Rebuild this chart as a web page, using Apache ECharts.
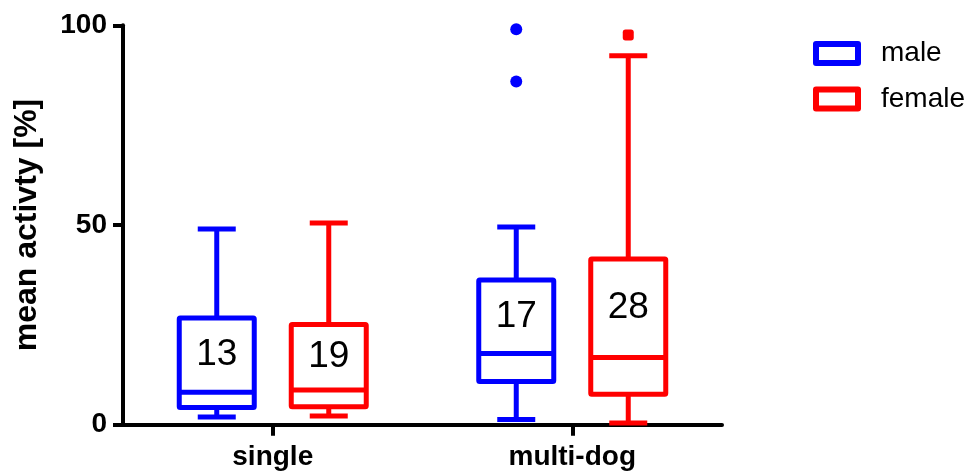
<!DOCTYPE html>
<html>
<head>
<meta charset="utf-8">
<script src="https://cdn.jsdelivr.net/npm/echarts@6/dist/echarts.min.js"></script>
<style>
  html, body { margin: 0; padding: 0; background: #fff; }
  #chart { width: 976px; height: 472px; }
</style>
</head>
<body>
<div id="chart"></div>
<script>
// Housing groups on the x axis
const categories = ['single', 'multi-dog'];
// Five-number summaries per group: [lower whisker, Q1, median, Q3, upper whisker]
const maleStats = [
  [1.9, 4.3, 8.1, 26.7, 49.0],
  [1.3, 10.8, 17.8, 36.2, 49.5]
];
const femaleStats = [
  [2.2, 4.5, 8.7, 25.1, 50.5],
  [0.4, 7.6, 16.8, 41.5, 92.4]
];
// Number of dogs per box
const maleCounts = [13, 17];
const femaleCounts = [19, 28];
// Points beyond the whiskers: [group index, value]
const maleOutliers = [[1, 99.0], [1, 85.9]];
const femaleOutliers = [[1, 97.6]];
// Y axis range and step
const yMin = 0, yMax = 100, yStep = 50;

const FONT = "'Liberation Sans', Arial, Helvetica, sans-serif";
const BLUE = '#0000ff';
const RED = '#ff0000';
const SHIFT = 56;      // horizontal offset of each box from the group centre (px)
const BOX_HALF = 37.5; // half box width (px)
const CAP_HALF = 19;   // half whisker-cap width (px)
const STROKE = 5;

function toRows(stats, counts) {
  return stats.map((s, i) => [i, s[0], s[1], s[2], s[3], s[4], counts[i]]);
}

function makeBoxRenderer(shift, color) {
  return function (params, api) {
    const cat = api.value(0);
    const lo = api.value(1), q1 = api.value(2), med = api.value(3),
          q3 = api.value(4), hi = api.value(5), n = api.value(6);
    const x = api.coord([cat, 0])[0] + shift;
    const py = v => api.coord([cat, v])[1];
    const line = { stroke: color, lineWidth: STROKE, lineCap: 'butt' };
    return {
      type: 'group',
      children: [
        { type: 'line', shape: { x1: x, y1: py(q1), x2: x, y2: py(lo) }, style: line },
        { type: 'line', shape: { x1: x, y1: py(q3), x2: x, y2: py(hi) }, style: line },
        { type: 'line', shape: { x1: x - CAP_HALF, y1: py(lo), x2: x + CAP_HALF, y2: py(lo) }, style: line },
        { type: 'line', shape: { x1: x - CAP_HALF, y1: py(hi), x2: x + CAP_HALF, y2: py(hi) }, style: line },
        {
          type: 'rect',
          shape: { x: x - BOX_HALF, y: py(q3), width: BOX_HALF * 2, height: py(q1) - py(q3), r: 1 },
          style: { fill: '#fff', stroke: color, lineWidth: STROKE, lineJoin: 'round' }
        },
        { type: 'line', shape: { x1: x - BOX_HALF, y1: py(med), x2: x + BOX_HALF, y2: py(med) }, style: line },
        {
          type: 'text',
          style: {
            text: String(n), x: x, y: py((med + q3) / 2),
            fill: '#000', font: '37px ' + FONT,
            align: 'center', verticalAlign: 'middle'
          }
        }
      ]
    };
  };
}

const chart = echarts.init(document.getElementById('chart'), null, { renderer: 'canvas' });

chart.setOption({
  animation: false,
  backgroundColor: '#fff',
  grid: { left: 123, right: 254, top: 25.3, bottom: 47.3, containLabel: false },
  legend: {
    orient: 'vertical',
    left: 813,
    top: 37.4,
    padding: 0,
    itemWidth: 42,
    itemHeight: 19,
    itemGap: 13.5,
    selectedMode: false,
    textStyle: {
      fontFamily: FONT, fontSize: 28, color: '#000',
      lineHeight: 32, padding: [0, 0, 0, 18]
    },
    data: [
      { name: 'male', icon: 'rect', itemStyle: { color: '#fff', borderColor: BLUE, borderWidth: 6, borderJoin: 'round' } },
      { name: 'female', icon: 'rect', itemStyle: { color: '#fff', borderColor: RED, borderWidth: 6, borderJoin: 'round' } }
    ]
  },
  xAxis: {
    type: 'category',
    data: categories,
    boundaryGap: true,
    axisLine: { show: true, lineStyle: { color: '#000', width: 4 } },
    axisTick: { show: true, alignWithLabel: true, length: 11, lineStyle: { color: '#000', width: 4 } },
    axisLabel: { color: '#000', fontFamily: FONT, fontSize: 28, fontWeight: 'bold', margin: 19 },
    splitLine: { show: false }
  },
  yAxis: {
    type: 'value',
    min: yMin, max: yMax, interval: yStep,
    name: 'mean activty [%]',
    nameLocation: 'middle',
    nameGap: 80,
    nameTextStyle: { color: '#000', fontFamily: FONT, fontSize: 32, fontWeight: 'bold' },
    axisLine: { show: true, lineStyle: { color: '#000', width: 4 } },
    axisTick: { show: true, length: 10, lineStyle: { color: '#000', width: 4 } },
    axisLabel: { color: '#000', fontFamily: FONT, fontSize: 28, fontWeight: 'bold', margin: 16 },
    splitLine: { show: false }
  },
  series: [
    {
      name: 'male', type: 'custom', clip: false,
      itemStyle: { color: BLUE },
      encode: { x: 0, y: [1, 2, 3, 4, 5] },
      data: toRows(maleStats, maleCounts),
      renderItem: makeBoxRenderer(-SHIFT, BLUE),
      z: 3
    },
    {
      name: 'female', type: 'custom', clip: false,
      itemStyle: { color: RED },
      encode: { x: 0, y: [1, 2, 3, 4, 5] },
      data: toRows(femaleStats, femaleCounts),
      renderItem: makeBoxRenderer(SHIFT, RED),
      z: 3
    },
    {
      name: 'male', type: 'scatter',
      data: maleOutliers,
      symbol: 'circle', symbolSize: 12,
      symbolOffset: [-SHIFT, 0],
      itemStyle: { color: BLUE, opacity: 1 },
      z: 4
    },
    {
      name: 'female', type: 'scatter',
      data: femaleOutliers,
      symbol: 'roundRect', symbolSize: 11,
      symbolOffset: [SHIFT, 0],
      itemStyle: { color: RED, opacity: 1 },
      z: 4
    }
  ]
});
</script>
</body>
</html>
